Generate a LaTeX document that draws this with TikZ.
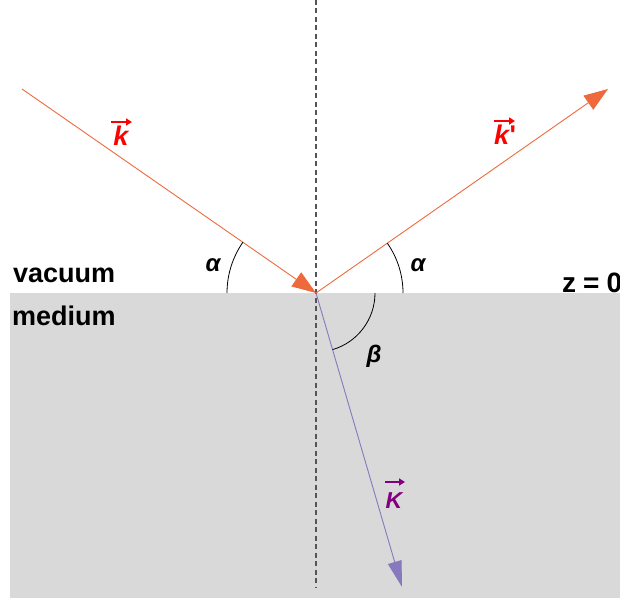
\documentclass[tikz,border=0pt]{standalone}
\usepackage{fontspec}
\setmainfont{Liberation Sans}
\usetikzlibrary{arrows.meta}
\definecolor{raycol}{HTML}{EE6A3C}
\definecolor{refrcol}{HTML}{8878BE}
\definecolor{medcol}{HTML}{D9D9D9}
\definecolor{kpurple}{HTML}{800080}
\definecolor{dashcol}{HTML}{555555}
\tikzset{
  ray/.style={draw=raycol, line width=0.9pt, -{Triangle[length=24pt,width=17pt]}},
  refr/.style={draw=refrcol, line width=0.9pt, -{Triangle[length=26pt,width=14pt]}},
  anglearc/.style={draw=black, line width=0.8pt},
  lab/.style={font=\fontsize{27}{30}\selectfont\bfseries, inner sep=0pt},
  glab/.style={font=\fontsize{24}{28}\selectfont\bfseries\itshape, inner sep=0pt},
  klab/.style={font=\fontsize{27}{30}\selectfont\bfseries\itshape, inner sep=0pt},
  Klab/.style={font=\fontsize{23}{26}\selectfont\bfseries\itshape, inner sep=0pt},
  vecarrow/.style={line width=2.4pt, -{Triangle[length=6pt,width=7pt]}},
}
\begin{document}
\begin{tikzpicture}[x=1pt,y=-1pt]
\useasboundingbox (0,0) rectangle (620,601);
\fill[medcol] (10,293) rectangle (620,598);
\coordinate (O) at (316,293);
\coordinate (A) at (22,89);
\coordinate (B) at (608,89);
\coordinate (C) at (402,587);
\coordinate (top) at (316,0);
\coordinate (bot) at (316,588);
\draw[dashcol, line width=1.6pt, dash pattern=on 5pt off 3.5pt] (top) -- (bot);
\draw[ray] (A) -- (O);
\draw[ray] (O) -- (B);
\draw[refr] (O) -- (C);
\draw[anglearc] (O) ++(-89,0) arc[start angle=180, end angle=214.8, radius=89];
\draw[anglearc] (O) ++(87,0) arc[start angle=0, end angle=-34.9, radius=87];
\draw[anglearc] (O) ++(59,0) arc[start angle=0, end angle=73.7, radius=59];
\node[lab, anchor=base west] (vac) at (13,283) {vacuum};
\node[lab, anchor=base west] (med) at (12,325) {medium};
\node[lab, font=\fontsize{28}{32}\selectfont\bfseries, anchor=base west] (z0) at (562,292) {\spaceskip=7pt z = 0};
\node[glab, anchor=base] (a1) at (213,271) {α};
\node[glab, anchor=base] (a2) at (418,271) {α};
\node[glab, anchor=base] (b1) at (374,362) {β};
% k (incident)
\node[klab, text=red, anchor=base] (k1) at (121,146) {k};
\coordinate (k1a) at (111,122);
\coordinate (k1b) at (132,122);
\draw[vecarrow, red] (k1a) -- (k1b);
% k' (reflected)
\node[klab, text=red, anchor=base west] (k2) at (494,145) {k};
\node[klab, text=red, font=\fontsize{27}{30}\selectfont\bfseries, anchor=base west] (k2p) at (k2.base east) {\textquotesingle};
\coordinate (k2a) at (494,121);
\coordinate (k2b) at (515,121);
\draw[vecarrow, red] (k2a) -- (k2b);
% K (refracted)
\node[Klab, text=kpurple, anchor=base] (k3) at (394,508) {K};
\coordinate (k3a) at (385,482);
\coordinate (k3b) at (405,482);
\draw[vecarrow, kpurple] (k3a) -- (k3b);
\end{tikzpicture}
\end{document}
